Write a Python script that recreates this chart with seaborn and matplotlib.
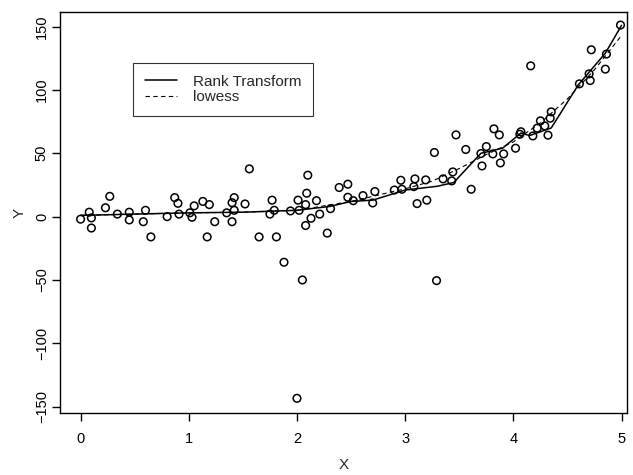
import numpy as np
import pandas as pd
import matplotlib
matplotlib.use('Agg')
import matplotlib.pyplot as plt
import seaborn as sns

# scatter data
x_pts = [0.00, 0.08, 0.10, 0.10, 0.23, 0.27, 0.34, 0.45, 0.45, 0.60,
         0.58, 0.65, 0.80, 0.87, 0.90, 0.91, 1.01, 1.03, 1.05, 1.13,
         1.19, 1.17, 1.24, 1.35, 1.40, 1.42, 1.42, 1.40, 1.52, 1.56,
         1.65, 1.77, 1.75, 1.79, 1.81, 1.88, 1.94, 2.01, 2.02, 2.09,
         2.10, 2.08, 2.08, 2.13, 2.18, 2.21, 2.28, 2.31, 2.39, 2.47,
         2.47, 2.52, 2.05, 2.00, 2.61, 2.70, 2.72, 2.90, 2.97, 2.96,
         3.09, 3.08, 3.11, 3.20, 3.19, 3.27, 3.29, 3.35, 3.43, 3.44,
         3.47, 3.56, 3.61, 3.70, 3.71, 3.75, 3.81, 3.91, 3.82, 3.87,
         3.88, 4.02, 4.06, 4.07, 4.18, 4.16, 4.22, 4.25, 4.29, 4.32,
         4.34, 4.35, 4.61, 4.70, 4.71, 4.72, 4.85, 4.86, 4.99]
y_pts = [-2, 3.5, -1, -9, 7, 16, 2, 3.5, -2.6, 5,
         -4, -16, 0, 15, 10.5, 2, 3, -0.5, 8.5, 12,
         9.5, -16, -4, 3, 11, 15, 5, -4, 10, 37.7,
         -16, 13, 2, 5, -16, -36, 4.5, 13, 5, 18.5,
         32.7, 9.5, -7, -1.3, 12.6, 2, -13, 6.3, 23, 25.6,
         15.3, 12.6, -50, -143.4, 16.6, 10.8, 19.8, 21, 21.6, 28.7,
         29.8, 23.7, 10.3, 13, 29, 50.6, -50.5, 29.8, 28.2, 35.3,
         64.5, 53, 21.6, 49.8, 40, 55.3, 49.5, 49.5, 69.3, 64.5,
         42.4, 54, 65, 67, 63.7, 119, 69.8, 75.6, 71.6, 64.3,
         77.7, 82.7, 104.8, 112.7, 107.4, 131.7, 116.4, 128.3, 151.2]

# fitted curves
rank_x = [0, 0.5, 1.0, 1.5, 2.0, 2.3, 2.5, 2.7, 3.0, 3.3, 3.45, 3.7, 3.9,
          4.07, 4.15, 4.35, 4.6, 4.85, 5.0]
rank_y = [1, 2, 3, 3.5, 5, 8, 12, 13, 21, 24, 27, 50, 54,
          66, 64, 70, 104, 129, 151]
lowess_x = [0, 0.5, 1.0, 1.5, 2.0, 2.5, 3.0, 3.25, 3.5, 3.75, 4.0, 4.25,
            4.5, 4.75, 5.0]
lowess_y = [1, 2, 3, 3.5, 5, 12, 22, 28, 38, 49, 59, 74, 93, 116, 143]

sns.set_style('ticks')
plt.rcParams['font.family'] = ['Liberation Sans', 'DejaVu Sans']

fig = plt.figure(figsize=(6.33, 4.75), dpi=100)
ax = fig.add_axes([0.0948, 0.1305, 0.8957, 0.8442])

pts = pd.DataFrame({'x': x_pts, 'y': y_pts})
sns.scatterplot(data=pts, x='x', y='y', ax=ax, marker='o', s=30,
                facecolors='none', edgecolor='black', linewidth=1.1)
sns.lineplot(x=rank_x, y=rank_y, ax=ax, color='black', lw=1.1,
             sort=False, estimator=None, label='Rank Transform')
sns.lineplot(x=lowess_x, y=lowess_y, ax=ax, color='black', lw=0.8,
             sort=False, estimator=None, linestyle=(0, (4, 3)), label='lowess')

ax.set_xlim(-0.19, 5.05)
ax.set_ylim(-155, 161.5)
ax.set_xticks([0, 1, 2, 3, 4, 5])
ax.set_yticks([-150, -100, -50, 0, 50, 100, 150])
ax.tick_params(direction='out', length=6, width=1, labelsize=10.5, colors='black')
ax.tick_params(axis='x', pad=8)
ax.tick_params(axis='y', pad=2)
for lab in ax.get_yticklabels():
    lab.set_rotation(90)
    lab.set_va('center')
ax.set_xlabel('X', fontsize=11, labelpad=8)
ax.set_ylabel('Y', fontsize=11, labelpad=6)
for s in ax.spines.values():
    s.set_visible(True)
    s.set_color('black')
    s.set_linewidth(1)

leg = ax.legend(loc='upper left', bbox_to_anchor=(0.129, 0.872), frameon=True,
                fancybox=False, edgecolor='black', fontsize=11,
                handlelength=2.1, handletextpad=1.05, borderpad=0.75,
                borderaxespad=0, labelspacing=0.1)
leg.get_frame().set_linewidth(0.8)

fig.savefig('out.png', dpi=100)
